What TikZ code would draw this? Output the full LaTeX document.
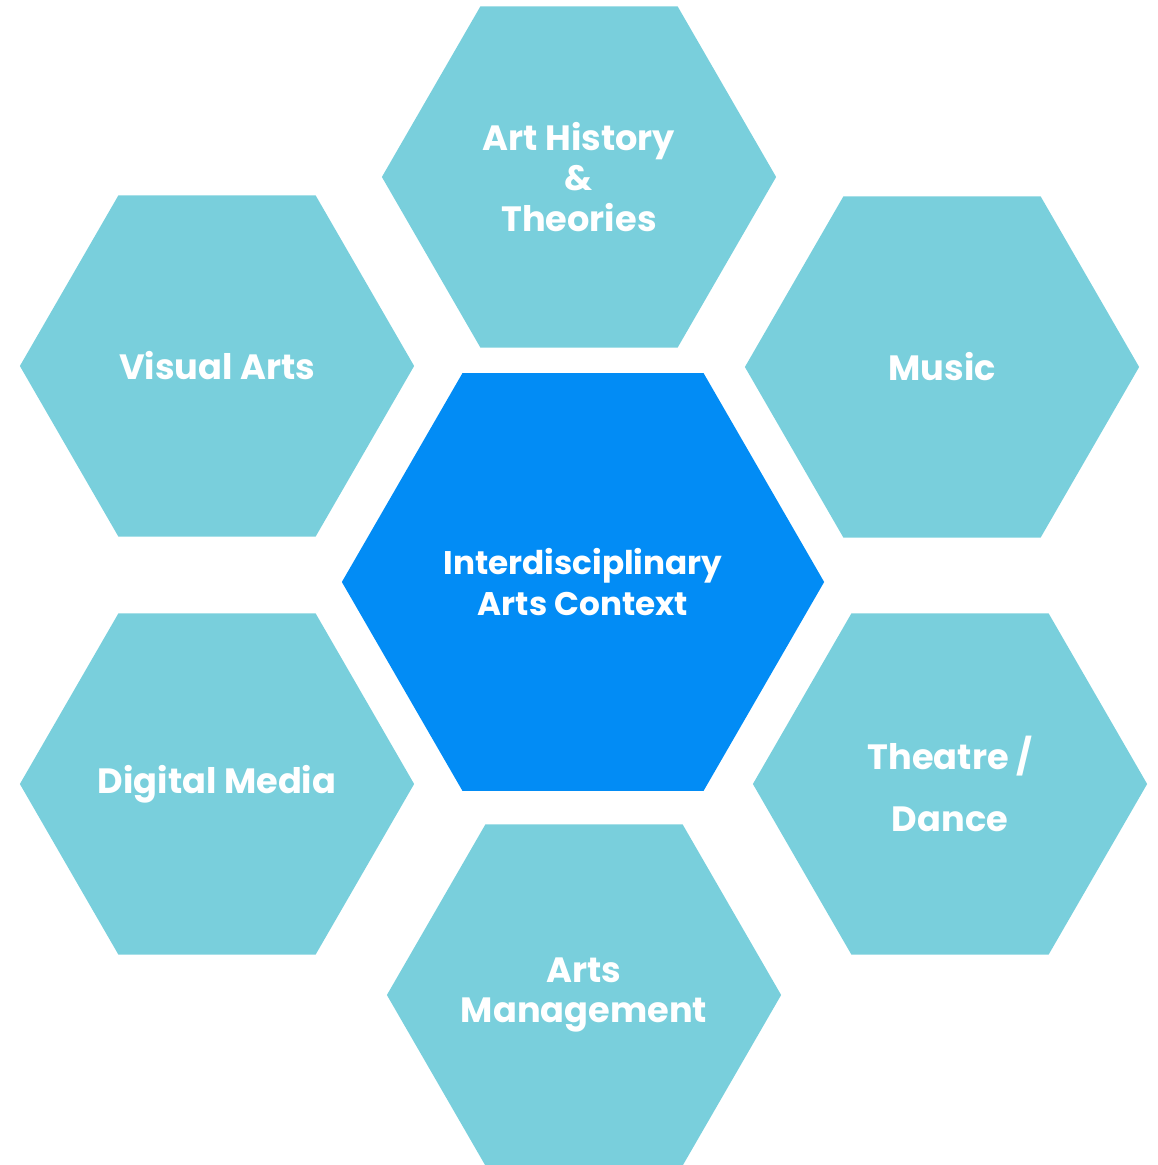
\documentclass[tikz,border=0pt]{standalone}
\usepackage{fontspec}
\setmainfont{Poppins}
\usetikzlibrary{shapes.geometric}
\definecolor{hexlight}{HTML}{79CFDC}
\definecolor{hexblue}{HTML}{028CF5}
\begin{document}
\begin{tikzpicture}[x=0.01cm, y=-0.01cm, font=\fontsize{10}{11.5}\selectfont\bfseries,
	hexa/.style={regular polygon, regular polygon sides=6, minimum size=3.94cm, inner sep=0pt, outer sep=0pt, fill=hexlight},
	hexmid/.style={hexa, minimum size=4.82cm, fill=hexblue},
	lbl/.style={text=white, align=center, inner sep=0pt}]
	\useasboundingbox (0,0) rectangle (1157,1165); % page size
	% hexagons
	\node[hexmid] (ctx) at (583,582) {};
	\node[hexa] (hist) at (579,177) {};
	\node[hexa] (vis) at (217,366) {};
	\node[hexa] (mus) at (942,367) {};
	\node[hexa] (dig) at (217,784) {};
	\node[hexa] (thea) at (950,784) {};
	\node[hexa] (mgmt) at (584,995) {};
	% labels
	\node[lbl, font=\fontsize{9.3}{11.5}\selectfont\bfseries] (ctxt) at (ctx) {Interdisciplinary\\Arts Context};
	\node[lbl] (histt) at (hist) {Art History\\\&\\Theories};
	\node[lbl] (vist) at (vis) {Visual Arts};
	\node[lbl] (must) at (mus) {Music};
	\node[lbl] (digt) at (dig) {Digital Media};
	\node[lbl] (theat) at (thea) {Theatre /\\[6pt]Dance};
	\node[lbl] (mgmtt) at (mgmt) {Arts\\Management};
\end{tikzpicture}
\end{document}
